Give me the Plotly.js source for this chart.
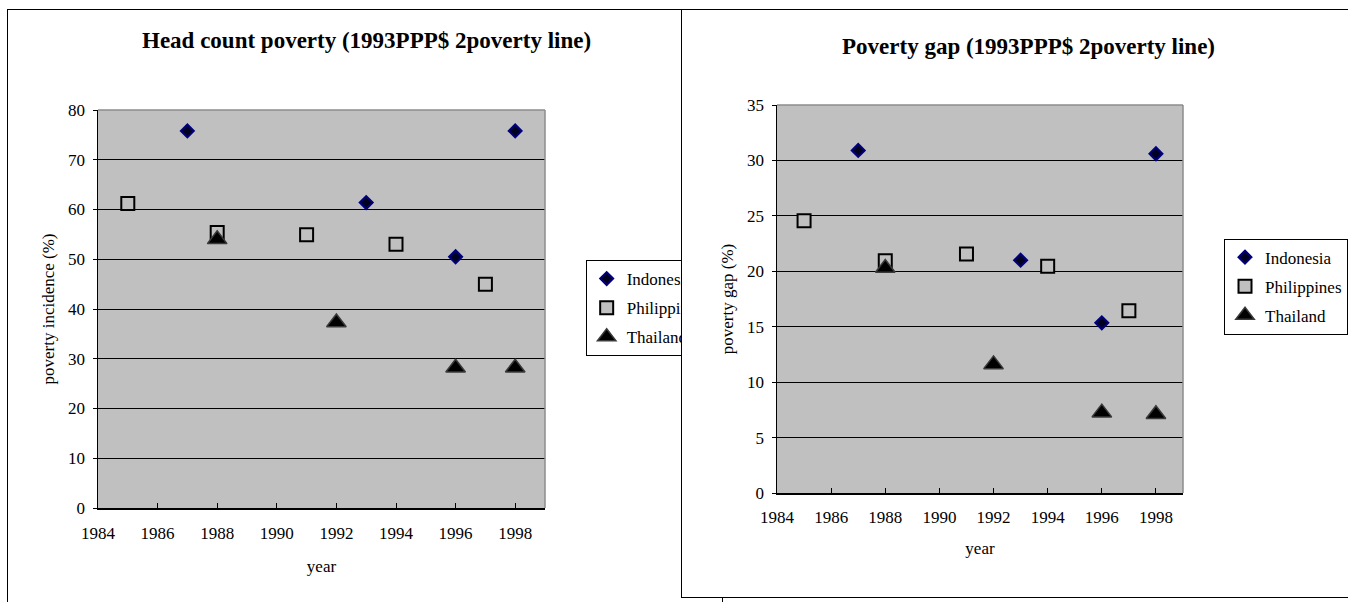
<!DOCTYPE html>
<html>
<head>
<meta charset="utf-8">
<script src="https://cdn.plot.ly/plotly-3.0.1.min.js"></script>
<style>
  html, body { margin: 0; padding: 0; background: #ffffff; width: 1348px; height: 602px; overflow: hidden; }
  #left { position: absolute; left: 7px; top: 9px; width: 716px; height: 600px; border: 1px solid #000; box-sizing: border-box; background: #fff; }
  #right { position: absolute; left: 681px; top: 9px; width: 680px; height: 589px; border: 1px solid #000; box-sizing: border-box; background: #fff; z-index: 2; }
</style>
</head>
<body>
<div id="left"></div>
<div id="right"></div>
<script>
// ---- data ----
const seriesNames = ["Indonesia", "Philippines", "Thailand"];
const yearsIndonesia = [1987, 1993, 1996, 1998];
const yearsPhilippines = [1985, 1988, 1991, 1994, 1997];
const yearsThailand = [1988, 1992, 1996, 1998];

const headcountIndonesia = [75.8, 61.4, 50.5, 75.8];
const headcountPhilippines = [61.2, 55.4, 54.9, 53.0, 45.0];
const headcountThailand = [54.0, 37.3, 28.2, 28.2];

const gapIndonesia = [30.9, 21.0, 15.35, 30.6];
const gapPhilippines = [24.55, 20.95, 21.55, 20.45, 16.45];
const gapThailand = [20.3, 11.6, 7.25, 7.1];

const xTickVals = [1984, 1986, 1988, 1990, 1992, 1994, 1996, 1998];
const leftTitle = "Head count poverty (1993PPP$ 2poverty line)";
const rightTitle = "Poverty gap (1993PPP$ 2poverty line)";
const leftYTitle = "poverty incidence (%)";
const rightYTitle = "poverty gap (%)";
const xTitle = "year";

// ---- styles ----
const FONT = "Liberation Serif, Times New Roman, serif";
const styles = [
  {symbol: "diamond", size: 10, color: "#000022", line: {color: "#000080", width: 2}},
  {symbol: "square", size: 13, color: "#c0c0c0", line: {color: "#000000", width: 2}},
  {symbol: "triangle-up", size: 17, color: "#000000", line: {color: "#3a3a3a", width: 1.5}}
];

function traces(xs, ys) {
  return xs.map((x, i) => ({
    type: "scatter", mode: "markers", name: seriesNames[i],
    x: x, y: ys[i], marker: styles[i], legendgroup: "g" + i, cliponaxis: false
  }));
}

function makeLayout(o) {
  return {
    width: o.w, height: o.h,
    margin: o.margin,
    paper_bgcolor: "#ffffff", plot_bgcolor: "#c0c0c0",
    font: {family: FONT, size: 17, color: "#000"},
    showlegend: true,
    title: {text: "<b>" + o.title + "</b>", font: {family: FONT, size: 23, color: "#000"},
            xref: "container", yref: "container", x: o.tx, y: o.ty, xanchor: "left", yanchor: "middle"},
    legend: {x: o.lx, y: o.ly, xanchor: "left", yanchor: "top", bgcolor: "#fff",
             bordercolor: "#000", borderwidth: 1, font: {family: FONT, size: 17, color: "#000"},
             traceorder: "grouped", tracegroupgap: 4, itemwidth: 30},
    xaxis: {range: [1984, 1999], tickmode: "array", tickvals: xTickVals, ticks: "inside", ticklen: 5,
            tickcolor: "#000", showgrid: false, zeroline: false, showline: true, linecolor: "#000", linewidth: 1.5,
            tickfont: {family: FONT, size: 17}, ticklabelstandoff: o.xstand,
            automargin: true,
            title: {text: xTitle, font: {family: FONT, size: 17}, standoff: o.xtstand}},
    yaxis: {range: [0, o.ymax], dtick: o.dy, tick0: 0, ticks: "outside", ticklen: 4, tickcolor: "#000",
            showgrid: true, gridcolor: "#000", gridwidth: 1, zeroline: false, showline: true,
            linecolor: "#000", linewidth: 1.5, tickfont: {family: FONT, size: 17}, ticklabelstandoff: 4,
            title: {text: o.ytitle, font: {family: FONT, size: 17}}},
    shapes: [
      {type: "line", xref: "paper", yref: "paper", x0: 0, x1: 1, y0: 1, y1: 1, line: {color: "#8c8c8c", width: 1.5}, layer: "above"},
      {type: "line", xref: "paper", yref: "paper", x0: 1, x1: 1, y0: 0, y1: 1, line: {color: "#8c8c8c", width: 1.5}, layer: "above"}
    ]
  };
}

const cfg = {displayModeBar: false, staticPlot: true};

Plotly.newPlot("left",
  traces([yearsIndonesia, yearsPhilippines, yearsThailand], [headcountIndonesia, headcountPhilippines, headcountThailand]),
  makeLayout({w: 714, h: 598, margin: {l: 90, r: 163, t: 100, b: 100, pad: 0},
              title: leftTitle, tx: 134 / 714, ty: 0.95, lx: 1.091, ly: 0.6156 + 3 / 398,
              ymax: 80, dy: 10, ytitle: leftYTitle, xstand: 9, xtstand: 18}), cfg);

Plotly.newPlot("right",
  traces([yearsIndonesia, yearsPhilippines, yearsThailand], [gapIndonesia, gapPhilippines, gapThailand]),
  makeLayout({w: 678, h: 587, margin: {l: 95, r: 168, t: 95, b: 103.5, pad: 0},
              title: rightTitle, tx: 160 / 678, ty: 0.939, lx: 1.101, ly: 0.648 + 3 / 388.5,
              ymax: 35, dy: 5, ytitle: rightYTitle, xstand: 8, xtstand: 16}), cfg);
</script>
</body>
</html>
